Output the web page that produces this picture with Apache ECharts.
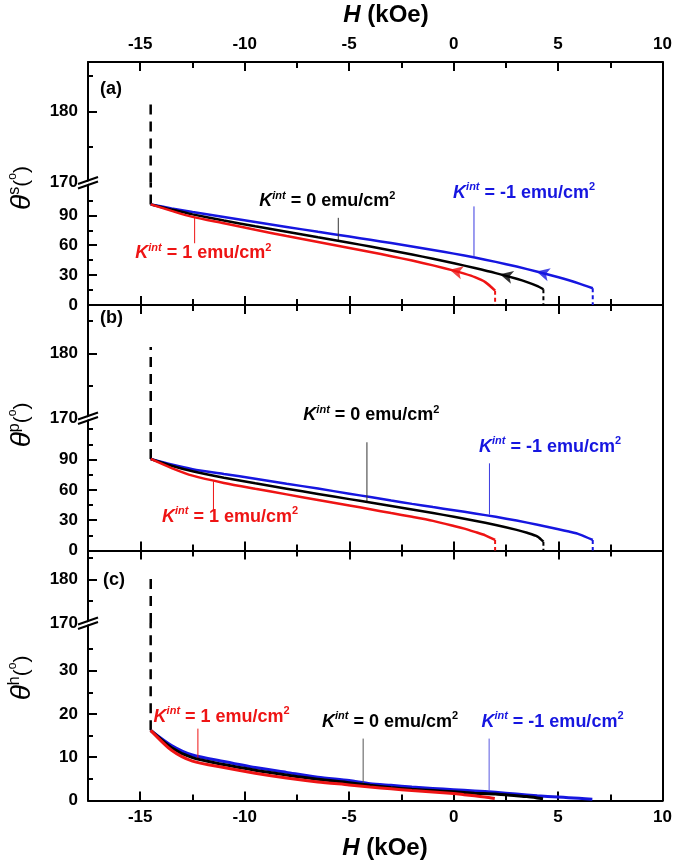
<!DOCTYPE html>
<html><head><meta charset="utf-8">
<script src="https://cdn.jsdelivr.net/npm/echarts@6/dist/echarts.min.js"></script>
<style>html,body{margin:0;padding:0;background:#fff}#c{width:675px;height:862px}</style>
</head><body><div id="c"></div>
<script>
const FONT = "'Liberation Sans', Arial, Helvetica, sans-serif";
const RED = '#ee1414', BLUE = '#1616e0', BLACK = '#000000';

// Field values H (kOe) sampled along each curve
const H_K1  = [-14.5,-13.5,-12.5,-11,-9.5,-8,-6.5,-5,-4,-3,-2,-1,0,0.5,1,1.5,1.97];
const H_K0  = [-14.5,-13.5,-12.5,-11,-9.5,-8,-6.5,-5,-4,-3,-2,-1,0,1,2,3,3.5,4,4.28];
const H_KM1 = [-14.5,-13.5,-12.5,-11,-9.5,-8,-6.5,-5,-4,-3,-2,-1,0,1,2,3,4,5,5.5,6,6.64];

// (a) theta^s
const A_K1  = [101,94.5,88.5,82,75.5,69.3,63.3,57.3,53.2,49,44.6,39.8,34.5,31.5,28,23,14.4];
const A_K0  = [101,95.8,91,84.8,79,73.5,68,62.5,58.7,54.8,50.7,46.4,41.9,37.1,32,26.3,23,19,15.8];
const A_KM1 = [101,97,93.4,88.3,83.3,78.4,73.5,68.7,65.5,62.2,58.8,55.3,51.6,47.6,43.3,38.6,33.4,27.8,24.8,21.5,16.8];
// (b) theta^p
const B_K1  = [90.5,81.5,74,66.8,61,55.5,50,44.5,40.8,37,33.3,29.3,24.3,21.6,18.4,15,10.4];
const B_K0  = [90.5,83.8,78.3,72,66.4,61.1,55.9,50.8,47.4,44,40.5,37,33.4,29.5,25.2,20.4,17.5,13.8,8.7];
const B_KM1 = [90.5,85,80.4,75.6,71,66.1,61.2,56.2,52.8,49.4,46.1,42.9,39.8,36.6,33.3,29.6,25.5,21.1,18.7,16,10.4];
// (c) theta^h
const C_K1  = [16.2,11.6,9.1,7.6,6.3,5.2,4.3,3.6,3.1,2.7,2.3,1.95,1.6,1.35,1.1,0.8,0.45];
const C_K0  = [16.2,12.2,9.9,8.3,7,5.9,4.9,4.1,3.5,3.0,2.6,2.3,2.0,1.7,1.5,1.1,0.9,0.6,0.4];
const C_KM1 = [16.2,12.7,10.5,9,7.6,6.5,5.4,4.6,3.9,3.5,3.1,2.8,2.5,2.2,1.9,1.5,1.1,0.8,0.65,0.5,0.3];

// Tick values / labels
const X_MIN = -17.5, X_MAX = 10;
const X_MAJOR = [-15,-10,-5,0,5,10];
const X_MINOR = [-12.5,-7.5,-2.5,2.5,7.5];
const UP_LABELS = [170,180], UP_MAJOR = [180], UP_MINOR = [175,185];
const AB_LABELS = [0,30,60,90], AB_MAJOR = [30,60,90];
const A_MINOR = [15,45,75,105], B_MINOR = [15,45,75,105,120];
const C_LABELS = [0,10,20,30], C_MAJOR = [10,20,30], C_MINOR = [5,15,25,35];

const FIELD_H = -14.5, DASH_TOP = 181;
// arrow markers in (a): [H, theta]
const ARROW_H = [-0.2, 2.2, 3.95];
const ARROW_T = [35.5, 30.9, 33.6];
const ARROW_C = [RED, BLACK, BLUE];

// pointer lines [panel, H, th1, th2, color]
const POINTERS = [
  [0,-5.53,64.5,87.5,'#333'],[0,0.96,48.5,99,'#3a3ae0'],[0,-12.4,88.5,62,RED],
  [1,-4.16,48,107,'#333'],[1,1.7,35.5,86.2,'#3a3ae0'],[1,-11.5,68.5,40,RED],
  [2,-12.24,9.8,16.6,RED],[2,-4.33,3.8,14.3,'#555'],[2,1.7,2.2,14.3,'#5a5ae0']
];
// K labels [panel, value text, color, H(left), theta(middle)]
const KLABELS = [
  [0,'0',BLACK,-9.31,104],[0,'-1',BLUE,-0.04,112.5],[0,'1',RED,-15.24,52],
  [1,'0',BLACK,-7.2,133.9],[1,'-1',BLUE,1.2,102.6],[1,'1',RED,-13.96,33.4],
  [2,'1',RED,-14.36,19.3],[2,'0',BLACK,-6.3,18.2],[2,'-1',BLUE,1.33,18.2]
];

const PANELS = [
  {top:62, brk:182.5, bottom:305, lowMax:123, upMax:187, lowLabels:AB_LABELS, lowMajor:AB_MAJOR, lowMinor:A_MINOR,
   curves:[A_KM1,A_K0,A_K1], ends:true, letter:'(a)', sup:'s', titleY:188, letterPx:[100,89]},
  {top:305, brk:418, bottom:550.5, lowMax:131, upMax:187.5, lowLabels:AB_LABELS, lowMajor:AB_MAJOR, lowMinor:B_MINOR,
   curves:[B_KM1,B_K0,B_K1], ends:true, letter:'(b)', sup:'p', titleY:425, letterPx:[100,318]},
  {top:550.5, brk:623, bottom:800.5, lowMax:41, upMax:186.6, lowLabels:C_LABELS, lowMajor:C_MAJOR, lowMinor:C_MINOR,
   curves:[C_KM1,C_K0,C_K1], ends:false, letter:'(c)', sup:'h', titleY:678, letterPx:[103,580]}
];
const CURVE_H = [H_KM1, H_K0, H_K1];
const CURVE_C = [BLUE, BLACK, RED];

const chart = echarts.init(document.getElementById('c'), null, {width:675, height:862});
const lbl = {fontSize:17, fontWeight:'bold', color:'#000', fontFamily:FONT};

function xAxis(g, pos, ticks, len, labels, line) {
  return {type:'value', gridIndex:g, position:pos, min:X_MIN, max:X_MAX,
    axisLine:{show:line, onZero:false, lineStyle:{color:'#000', width:2}},
    axisTick:{show:true, inside:true, length:len, customValues:ticks, lineStyle:{color:'#000', width:2}},
    axisLabel:Object.assign({show:!!labels, customValues:labels||[], margin:pos==='top'?9:8}, lbl),
    splitLine:{show:false}};
}
function yAxis(g, pos, min, max, ticks, len, labels, line) {
  return {type:'value', gridIndex:g, position:pos, min:min, max:max,
    axisLine:{show:line, onZero:false, lineStyle:{color:'#000', width:2}},
    axisTick:{show:ticks.length>0, inside:true, length:len, customValues:ticks.length?ticks:undefined, lineStyle:{color:'#000', width:2}},
    axisLabel:Object.assign({show:!!labels, customValues:labels||[], margin:10}, lbl),
    splitLine:{show:false}};
}

const grids=[], xAxes=[], yAxes=[], series=[];
PANELS.forEach((p, pi) => {
  const gUp = grids.length;
  grids.push({left:88, width:575, top:p.top, height:p.brk-p.top});
  const gLo = grids.length;
  grids.push({left:88, width:575, top:p.brk, height:p.bottom-p.brk});
  xAxes.push(xAxis(gUp,'top',X_MAJOR,9,pi===0?X_MAJOR:null,true));
  xAxes.push(xAxis(gUp,'top',X_MINOR,6,null,false));
  xAxes.push(xAxis(gLo,'bottom',X_MAJOR,9,pi===2?X_MAJOR:null,true));
  xAxes.push(xAxis(gLo,'bottom',X_MINOR,6,null,false));
  yAxes.push(yAxis(gUp,'left',170,p.upMax,UP_MAJOR,9,UP_LABELS,true));
  yAxes.push(yAxis(gUp,'left',170,p.upMax,UP_MINOR,5,null,false));
  yAxes.push(yAxis(gUp,'right',170,p.upMax,[],0,null,true));
  yAxes.push(yAxis(gLo,'left',0,p.lowMax,p.lowMajor,9,p.lowLabels,true));
  yAxes.push(yAxis(gLo,'left',0,p.lowMax,p.lowMinor,5,null,false));
  yAxes.push(yAxis(gLo,'right',0,p.lowMax,[],0,null,true));

  const lo = {xAxisIndex:2*gLo, yAxisIndex:3*gLo};
  const up = {xAxisIndex:2*gUp, yAxisIndex:3*gUp};
  series.push(Object.assign({type:'line', data:[[FIELD_H,p.curves[0][0]],[FIELD_H,p.lowMax]], showSymbol:false, silent:true,
    lineStyle:{color:'#000', width:2.5, type:[10,7]}}, lo));
  series.push(Object.assign({type:'line', data:[[FIELD_H,170],[FIELD_H,DASH_TOP]], showSymbol:false, silent:true,
    lineStyle:{color:'#000', width:2.5, type:[10,7]}}, up));
  p.curves.forEach((vals, ci) => {
    const hs = CURVE_H[ci];
    series.push(Object.assign({type:'line', data:hs.map((h,i)=>[h,vals[i]]), showSymbol:false, smooth:0.25,
      lineStyle:{color:CURVE_C[ci], width:pi===2?3:2.5}, z:3+ci}, lo));
    if (p.ends) {
      const n = hs.length-1;
      series.push(Object.assign({type:'line', data:[[hs[n],vals[n]],[hs[n],0]], showSymbol:false,
        lineStyle:{color:CURVE_C[ci], width:2, type:[4,3]}}, lo));
    }
  });
  POINTERS.filter(q=>q[0]===pi).forEach(q => {
    series.push(Object.assign({type:'line', data:[[q[1],q[2]],[q[1],q[3]]], showSymbol:false,
      lineStyle:{color:q[4], width:1}}, lo));
  });
  if (pi===0) {
    ARROW_H.forEach((h,i) => {
      series.push(Object.assign({type:'scatter', data:[[h,ARROW_T[i]]], symbol:'arrow', symbolSize:[10,13],
        symbolRotate:76, itemStyle:{color:ARROW_C[i]}, z:10}, lo));
    });
  }
});

chart.setOption({animation:false, backgroundColor:'#fff', grid:grids, xAxis:xAxes, yAxis:yAxes, series:series});

const gfx = [];
function px(pi, h, t) { const g = 2*pi+1; return chart.convertToPixel({xAxisIndex:2*g, yAxisIndex:3*g}, [h,t]); }
KLABELS.forEach(k => {
  const pt = px(k[0], k[3], k[4]);
  const c = k[2];
  gfx.push({type:'text', x:pt[0], y:pt[1], z:100, style:{
    text:'{k|K}{s|int}{n| = '+k[1]+' emu/cm}{t|2}', align:'left', verticalAlign:'middle',
    rich:{
      k:{fontSize:18, fontWeight:'bold', fontStyle:'italic', fontFamily:FONT, fill:c, lineHeight:22},
      s:{fontSize:11, fontWeight:'bold', fontStyle:'italic', fontFamily:FONT, fill:c, lineHeight:13, verticalAlign:'top'},
      n:{fontSize:18, fontWeight:'bold', fontFamily:FONT, fill:c, lineHeight:22},
      t:{fontSize:11, fontWeight:'bold', fontFamily:FONT, fill:c, lineHeight:13, verticalAlign:'top'}
    }}});
});
PANELS.forEach((p, pi) => {
  gfx.push({type:'text', x:p.letterPx[0], y:p.letterPx[1], z:100, style:{text:p.letter, align:'left', verticalAlign:'middle',
    fontSize:18, fontWeight:'bold', fontFamily:FONT, fill:'#000'}});
  gfx.push({type:'text', x:22, y:p.titleY, rotation:Math.PI/2, z:100, style:{
    text:'{t|θ}{s|'+p.sup+'}{p|(}{o|o}{p|)}', align:'center', verticalAlign:'middle',
    rich:{
      t:{fontSize:28, fontStyle:'italic', fontFamily:FONT, fill:'#000', lineHeight:30},
      s:{fontSize:16, fontFamily:FONT, fill:'#000', lineHeight:16, verticalAlign:'top'},
      p:{fontSize:21, fontFamily:FONT, fill:'#000', lineHeight:30},
      o:{fontSize:12, fontFamily:FONT, fill:'#000', lineHeight:13, verticalAlign:'top'}
    }}});
  const cx = 88, cy = p.brk;
  const L1 = x => cy - 2 - 0.35*(x-cx), L2 = x => cy + 2.5 - 0.35*(x-cx);
  gfx.push({type:'polygon', z:90, shape:{points:[[cx-4,L1(cx-4)+1],[cx+4,L1(cx+4)+1],[cx+4,L2(cx+4)-1],[cx-4,L2(cx-4)-1]]},
    style:{fill:'#fff'}});
  gfx.push({type:'line', z:91, shape:{x1:cx-10,y1:L1(cx-10),x2:cx+10,y2:L1(cx+10)}, style:{stroke:'#000', lineWidth:2}});
  gfx.push({type:'line', z:91, shape:{x1:cx-10,y1:L2(cx-10),x2:cx+10,y2:L2(cx+10)}, style:{stroke:'#000', lineWidth:2}});
});
const xt = {text:'{h|H}{n| (kOe)}', align:'center', verticalAlign:'middle',
  rich:{h:{fontSize:24, fontWeight:'bold', fontStyle:'italic', fontFamily:FONT, fill:'#000', lineHeight:28},
        n:{fontSize:24, fontWeight:'bold', fontFamily:FONT, fill:'#000', lineHeight:28}}};
gfx.push({type:'text', x:386, y:15, z:100, style:xt});
gfx.push({type:'text', x:385, y:848, z:100, style:xt});
chart.setOption({graphic:gfx});
</script></body></html>
